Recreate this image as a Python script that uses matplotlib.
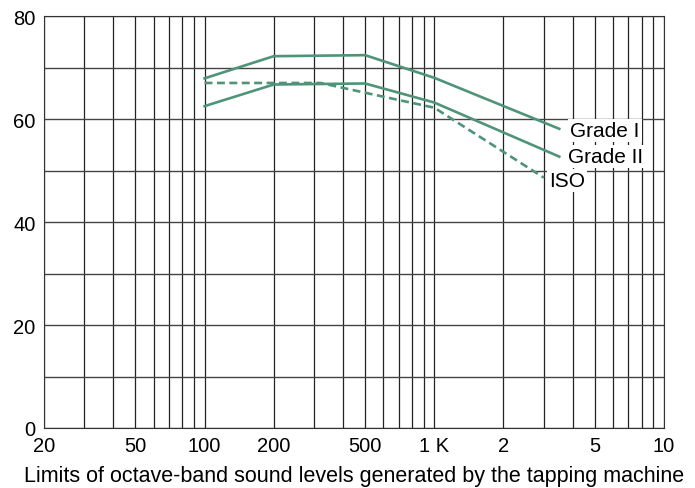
import matplotlib.pyplot as plt
from matplotlib.ticker import FixedLocator, FixedFormatter, NullFormatter
import numpy as np

plt.rcParams['font.family'] = ['Liberation Sans', 'DejaVu Sans']

# curves (frequency in Hz, level in dB)
grade1_f = [100, 200, 500, 1000, 3500]
grade1_db = [67.9, 72.2, 72.4, 68.0, 58.1]
grade2_f = [100, 200, 500, 1000, 3500]
grade2_db = [62.5, 66.7, 66.9, 63.2, 52.7]
iso_f = [100, 320, 500, 1000, 3000]
iso_db = [67.0, 67.0, 65.1, 62.2, 48.6]

xtick_vals = [20, 50, 100, 200, 500, 1000, 2000, 5000, 10000]
xtick_labels = ["20", "50", "100", "200", "500", "1 K", "2", "5", "10"]
ytick_vals = [0, 20, 40, 60, 80]

green = "#4f9478"

fig = plt.figure(figsize=(6.95, 4.89), dpi=100)
ax = fig.add_axes([0.0633, 0.1227, 0.8921, 0.8425])

ax.plot(grade1_f, grade1_db, color=green, lw=1.9)
ax.plot(grade2_f, grade2_db, color=green, lw=1.9)
ax.plot(iso_f, iso_db, color=green, lw=1.9, ls=(0, (3, 1.7)))

ax.set_xscale('log')
ax.set_xlim(20, 10000)
ax.set_ylim(0, 80)

# grid lines at every log subdivision and every 10 dB
minor = [m * d for d in (10, 100, 1000) for m in range(1, 10) if 20 <= m * d <= 10000]
ax.xaxis.set_minor_locator(FixedLocator(minor))
ax.xaxis.set_minor_formatter(NullFormatter())
ax.xaxis.set_major_locator(FixedLocator(xtick_vals))
ax.xaxis.set_major_formatter(FixedFormatter(xtick_labels))
ax.set_yticks(ytick_vals)
ax.yaxis.set_minor_locator(FixedLocator(np.arange(0, 81, 10)))
ax.grid(True, which='both', axis='x', color='#222222', lw=0.9)
ax.grid(True, which='both', axis='y', color='#444444', lw=1.0)
ax.tick_params(which='both', length=0, labelsize=14.5)
ax.tick_params(axis='x', pad=6)
ax.tick_params(axis='y', pad=6)
ax.set_axisbelow(True)
for s in ax.spines.values():
    s.set_color('#333333')

ax.set_xlabel("Limits of octave-band sound levels generated by the tapping machine",
              fontsize=15.5, labelpad=7)

box = dict(facecolor='white', edgecolor='none', pad=1.5)
ax.text(3900, 57.7, "Grade I", fontsize=15, va='center', ha='left', bbox=box)
ax.text(3810, 52.7, "Grade II", fontsize=15, va='center', ha='left', bbox=box)
ax.text(3155, 48.0, "ISO", fontsize=15, va='center', ha='left', bbox=box)

fig.savefig("out.png", dpi=100)
